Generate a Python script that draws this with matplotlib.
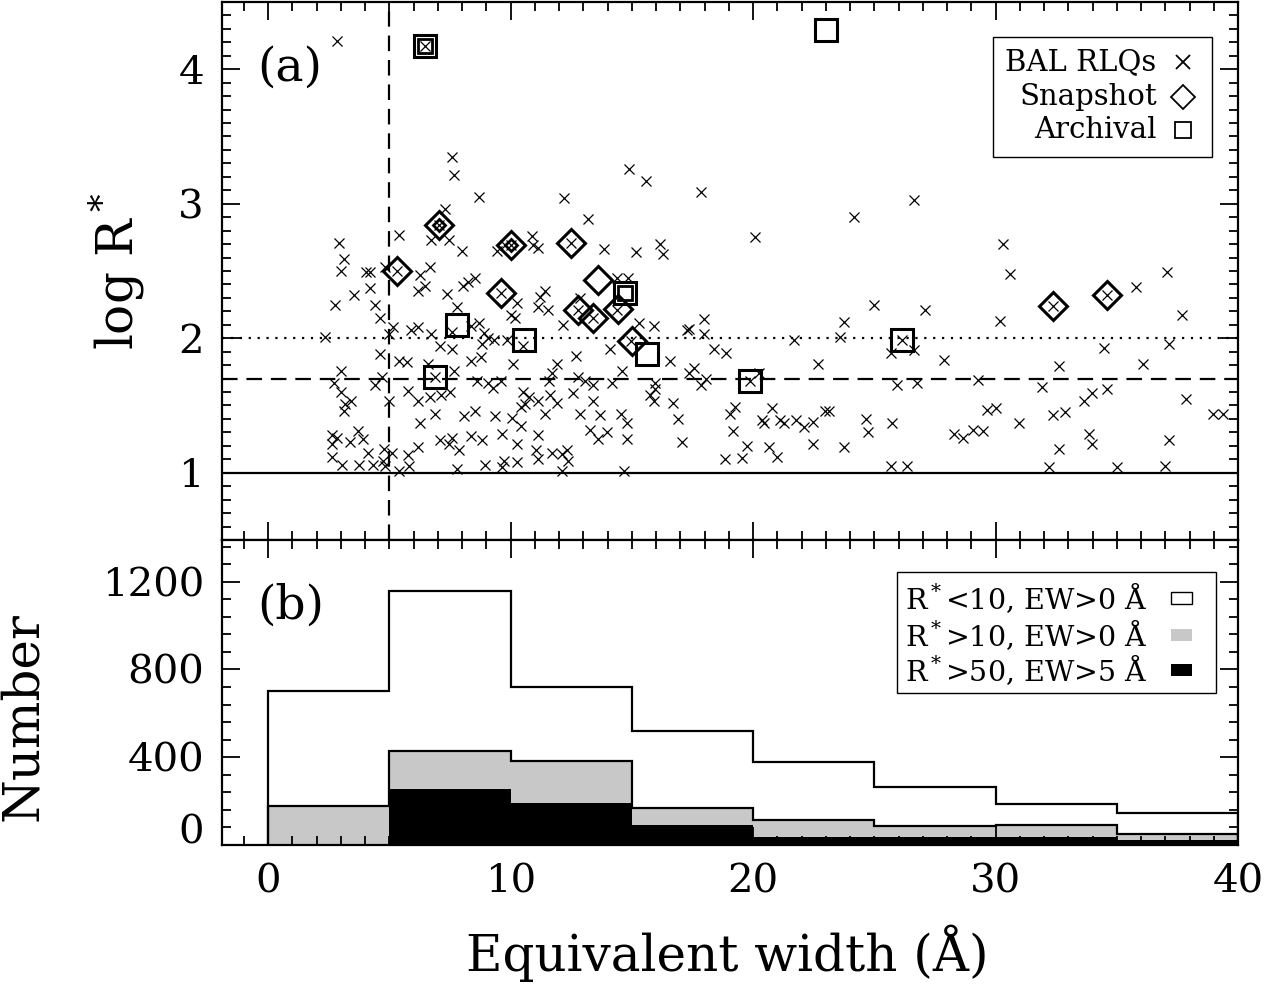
"""
BAL RLQ radio-loudness vs equivalent width, with EW histograms below.
"""

import matplotlib
matplotlib.use('Agg')
import matplotlib.pyplot as plt
from matplotlib.patches import Rectangle
from matplotlib.ticker import MultipleLocator, FixedLocator, FuncFormatter

plt.rcParams['font.family'] = 'DejaVu Serif'
plt.rcParams['mathtext.fontset'] = 'dejavuserif'

# ---- panel (a): BAL RLQs (crosses) ----
ew_rlq = [
    2.85, 7.59, 7.68, 8.68, 12.22, 7.28, 5.41, 2.94, 6.73, 7.45, 7.98, 3.12, 3.02,
    4.05, 4.21, 4.80, 6.28, 6.66, 4.21, 3.53, 2.74, 4.41, 6.19, 6.46, 8.02, 8.26,
    8.54, 7.36, 7.79, 4.62, 5.16, 5.91, 6.19, 6.73, 7.59, 8.37, 8.68, 8.91, 9.05,
    8.84, 9.32, 9.86, 10.27, 10.00, 10.20, 2.34, 5.00, 4.62, 5.41, 5.71, 7.07, 7.59,
    8.37, 8.77, 10.11, 11.20, 11.43, 11.13, 11.54, 10.89, 10.93, 11.13, 9.43, 9.75,
    3.02, 2.71, 3.02, 3.16, 3.12, 3.43, 4.41, 4.69, 5.00, 5.78, 6.19, 6.69, 7.11,
    7.51, 6.59, 7.68, 6.87, 6.28, 8.07, 8.54, 8.61, 9.05, 9.26, 9.62, 9.36, 10.04,
    9.66, 10.44, 10.41, 10.61, 10.75, 10.52, 11.13, 11.13, 11.43, 11.57, 11.63, 11.70,
    11.91, 11.91, 2.62, 2.64, 2.64, 2.85, 3.05, 3.39, 3.71, 3.90, 3.73, 4.11, 4.31,
    4.78, 4.75, 4.82, 5.10, 5.41, 5.78, 5.82, 6.19, 7.07, 7.45, 7.59, 7.89, 7.79,
    8.37, 8.84, 8.95, 9.66, 9.73, 10.25, 10.25, 11.06, 11.12, 11.70, 12.11, 12.32,
    12.38, 12.11, 10.52, 6.87,
    14.89, 15.58, 17.87, 13.18, 20.07, 24.16, 26.64, 13.87, 15.17, 16.17, 16.27, 14.38,
    14.86, 12.87, 12.18, 15.90, 15.28, 17.27, 17.37, 17.96, 17.96, 18.37, 18.88, 14.10,
    12.69, 21.68, 23.58, 23.77, 24.99, 26.16, 25.67, 26.64, 22.67, 16.58, 14.59, 12.80,
    13.07, 13.39, 14.17, 12.59, 13.39, 12.87, 13.69, 14.56, 14.79, 13.28, 13.60, 13.97,
    14.79, 15.96, 15.96, 15.76, 15.90, 16.68, 16.89, 17.07, 17.34, 17.55, 17.87, 18.07,
    14.68, 19.06, 19.27, 19.16, 18.86, 19.55, 19.75, 19.89, 20.23, 20.37, 20.47, 20.79,
    21.10, 21.27, 20.67, 20.99, 21.78, 22.09, 22.47, 22.47, 22.95, 23.13, 23.77, 24.67,
    24.75, 25.74, 25.67, 26.36, 25.95, 26.78,
    30.29, 30.59, 27.11, 30.18, 35.78, 37.06, 37.68, 27.88, 34.48, 37.17, 32.60, 36.09,
    29.28, 31.90, 33.66, 33.96, 34.58, 37.85, 29.66, 30.00, 30.98, 32.38, 32.86, 38.98,
    39.39, 28.28, 28.67, 29.08, 29.49, 33.87, 33.96, 32.60, 37.17, 32.20, 34.99, 36.99,
    5.33, 7.04, 10.00, 12.49, 9.62, 12.80, 13.39, 14.38, 14.97, 32.38, 34.58, 6.49,
]
logr_rlq = [
    4.21, 3.35, 3.21, 3.05, 3.04, 2.96, 2.77, 2.71, 2.73, 2.73, 2.65, 2.59, 2.50,
    2.49, 2.49, 2.53, 2.47, 2.53, 2.37, 2.32, 2.25, 2.25, 2.35, 2.39, 2.39, 2.42,
    2.45, 2.33, 2.23, 2.15, 2.08, 2.06, 2.08, 2.03, 2.05, 2.09, 2.11, 2.04, 2.00,
    1.96, 1.99, 1.99, 2.26, 2.17, 2.15, 2.01, 2.03, 1.88, 1.83, 1.82, 1.94, 1.92,
    1.83, 1.86, 1.81, 2.31, 2.35, 2.23, 2.21, 2.76, 2.69, 2.67, 2.65, 2.69,
    1.76, 1.67, 1.60, 1.51, 1.46, 1.53, 1.65, 1.71, 1.53, 1.61, 1.53, 1.56, 1.58,
    1.60, 1.81, 1.76, 1.44, 1.37, 1.42, 1.46, 1.68, 1.67, 1.63, 1.68, 1.42, 1.41,
    1.29, 1.35, 1.49, 1.51, 1.56, 1.60, 1.53, 1.28, 1.44, 1.68, 1.58, 1.74,
    1.81, 1.52, 1.28, 1.21, 1.12, 1.26, 1.06, 1.23, 1.31, 1.25, 1.06, 1.15, 1.06,
    1.18, 1.09, 1.05, 1.15, 1.01, 1.13, 1.05, 1.19, 1.24, 1.21, 1.26, 1.17, 1.03,
    1.27, 1.24, 1.06, 1.04, 1.09, 1.21, 1.08, 1.17, 1.10, 1.15, 1.14, 1.17,
    1.09, 1.01, 1.94, 1.71,
    3.26, 3.17, 3.09, 2.89, 2.75, 2.90, 3.03, 2.66, 2.64, 2.70, 2.63, 2.45,
    2.45, 2.30, 2.10, 2.09, 2.11, 2.06, 2.07, 2.14, 2.03, 1.92, 1.89, 1.92,
    1.87, 1.99, 2.01, 2.12, 2.25, 1.99, 1.89, 1.91, 1.81, 1.83, 1.76, 1.71,
    1.68, 1.65, 1.67, 1.59, 1.53, 1.44, 1.43, 1.44, 1.37, 1.32, 1.25, 1.30,
    1.25, 1.67, 1.62, 1.58, 1.53, 1.52, 1.40, 1.23, 1.74, 1.78, 1.65, 1.70,
    1.01, 1.44, 1.49, 1.31, 1.10, 1.11, 1.20, 1.68, 1.74, 1.39, 1.37, 1.48,
    1.39, 1.37, 1.19, 1.12, 1.39, 1.34, 1.38, 1.21, 1.46, 1.46, 1.19, 1.40,
    1.30, 1.37, 1.05, 1.05, 1.65, 1.67,
    2.70, 2.48, 2.21, 2.13, 2.38, 2.49, 2.17, 1.84, 1.93, 1.96, 1.79, 1.81,
    1.69, 1.64, 1.53, 1.59, 1.62, 1.55, 1.47, 1.48, 1.37, 1.43, 1.45, 1.44,
    1.44, 1.29, 1.26, 1.32, 1.31, 1.29, 1.21, 1.18, 1.24, 1.04, 1.04, 1.05,
    2.50, 2.84, 2.69, 2.71, 2.34, 2.21, 2.15, 2.21, 1.98, 2.24, 2.32, 4.17,
]

# Snapshot (diamonds) and Archival (squares) objects
ew_snap = [5.33, 7.04, 10.00, 12.49, 9.62, 12.80, 13.39, 13.62, 14.42, 15.00, 32.38, 34.58]
logr_snap = [2.50, 2.84, 2.69, 2.71, 2.34, 2.21, 2.15, 2.43, 2.22, 1.98, 2.24, 2.32]
ew_arch = [6.49, 22.99, 7.77, 10.54, 6.89, 14.72, 15.61, 19.89, 26.16]
logr_arch = [4.17, 4.29, 2.10, 1.99, 1.71, 2.34, 1.88, 1.68, 1.99]
# objects drawn with an extra inner symbol
ew_snap_inner = [7.04, 10.00]
logr_snap_inner = [2.84, 2.69]
ew_arch_inner = [6.49, 14.72]
logr_arch_inner = [4.17, 2.34]

# ---- panel (b): histograms in 5 A bins ----
bin_edges = [0, 5, 10, 15, 20, 25, 30, 35, 40]
n_r_lt10 = [700, 1158, 718, 518, 378, 264, 186, 146]
n_r_gt10 = [178, 430, 385, 170, 113, 88, 92, 52]
n_r_gt50 = [0, 255, 193, 92, 35, 35, 35, 23]

GRAY = '#c8c8c8'
TICK_FS = 29
LABEL_FS = 36
LEG_FS = 21


def style_axes(ax):
    for sp in ax.spines.values():
        sp.set_linewidth(1.6)
    ax.tick_params(which='both', direction='in', top=True, right=True,
                   width=1.3, labelsize=TICK_FS, pad=13)
    ax.tick_params(which='major', length=13)
    ax.tick_params(which='minor', length=6.5)
    ax.xaxis.set_major_locator(MultipleLocator(10))
    ax.xaxis.set_minor_locator(MultipleLocator(1))
    ax.set_xlim(-1.9, 40)


fig = plt.figure(figsize=(12.88, 9.89), dpi=100)
ax1 = fig.add_axes([0.1724, 0.454, 0.7888, 0.544])
ax2 = fig.add_axes([0.1724, 0.1456, 0.7888, 0.3084])

# ---------------- panel (a) ----------------
style_axes(ax1)
ax1.set_ylim(0.5, 4.5)
ax1.yaxis.set_major_locator(MultipleLocator(1))
ax1.yaxis.set_minor_locator(MultipleLocator(0.1))
ax1.tick_params(labelbottom=False)

dash = (0, (7, 4))
ax1.axhline(1.0, color='k', lw=1.6)
ax1.axhline(2.0, color='k', lw=1.6, ls=(0, (1, 3)))
ax1.axhline(1.699, color='k', lw=1.6, ls=dash)
ax1.axvline(5.0, color='k', lw=1.6, ls=dash)

ax1.plot(ew_rlq, logr_rlq, 'x', color='k', ms=6.5, mew=0.9)
ax1.plot(ew_snap, logr_snap, 'D', ms=14, mfc='none', mec='k', mew=2.2)
ax1.plot(ew_arch, logr_arch, 's', ms=16, mfc='none', mec='k', mew=2.2)
ax1.plot(ew_snap_inner, logr_snap_inner, 'D', ms=6.5, mfc='none', mec='k', mew=2.0)
ax1.plot(ew_arch_inner, logr_arch_inner, 's', ms=10, mfc='none', mec='k', mew=2.0)

ax1.set_ylabel(r'log R$^*$', fontsize=LABEL_FS)
ax1.yaxis.set_label_coords(-0.074, 0.5)
ax1.text(0.035, 0.877, '(a)', fontsize=34, transform=ax1.transAxes, va='center')

# legend drawn by hand: right-aligned text, symbol after it
ax1.add_patch(Rectangle((0.759, 0.712), 0.215, 0.223, transform=ax1.transAxes,
                        fill=False, lw=1.0, color='k'))
leg_rows = [('BAL RLQs', 'x', 10), ('Snapshot', 'D', 12), ('Archival', 's', 12)]
for (label, marker, size), y in zip(leg_rows, [0.888, 0.823, 0.762]):
    ax1.text(0.920, y, label, fontsize=LEG_FS, ha='right', va='center',
             transform=ax1.transAxes)
    ax1.plot([0.946], [y], marker, ms=size, mfc='none', mec='k', mew=1.3,
             transform=ax1.transAxes, clip_on=False)

# ---------------- panel (b) ----------------
style_axes(ax2)
ax2.set_ylim(0, 1390)
ax2.yaxis.set_major_locator(FixedLocator([0, 400, 800, 1200]))
ax2.yaxis.set_minor_locator(MultipleLocator(80))
ax2.yaxis.set_major_formatter(FuncFormatter(lambda v, p: '' if v == 0 else f'{v:.0f}'))
ax2.annotate('0', xy=(0, 0), xycoords=('axes fraction', 'data'),
             xytext=(-13, 9), textcoords='offset points',
             ha='right', va='center', fontsize=TICK_FS)

ax2.stairs(n_r_gt10, bin_edges, fill=True, color=GRAY)
ax2.stairs(n_r_gt50, bin_edges, fill=True, color='k')
ax2.stairs(n_r_gt10, bin_edges, color='k', lw=1.6, baseline=0)
ax2.stairs(n_r_lt10, bin_edges, color='k', lw=1.6, baseline=0)

ax2.set_ylabel('Number', fontsize=LABEL_FS)
ax2.yaxis.set_label_coords(-0.171, 0.42)
ax2.set_xlabel('Equivalent width (Å)', fontsize=LABEL_FS)
ax2.xaxis.set_label_coords(0.497, -0.262)
ax2.text(0.035, 0.784, '(b)', fontsize=34, transform=ax2.transAxes, va='center')

ax2.add_patch(Rectangle((0.664, 0.498), 0.314, 0.397, transform=ax2.transAxes,
                        fill=False, lw=1.0, color='k'))
hist_rows = [(r'R$^*$<10, EW>0 Å', dict(facecolor='white', edgecolor='k', lw=1.0)),
             (r'R$^*$>10, EW>0 Å', dict(facecolor=GRAY, edgecolor='none')),
             (r'R$^*$>50, EW>5 Å', dict(facecolor='k', edgecolor='none'))]
for (label, style), y in zip(hist_rows, [0.810, 0.689, 0.574]):
    ax2.text(0.672, y, label, fontsize=20.5, ha='left', va='center',
             transform=ax2.transAxes)
    ax2.add_patch(Rectangle((0.934, y - 0.02), 0.021, 0.04,
                            transform=ax2.transAxes, **style))

fig.savefig('out.png', dpi=100)
